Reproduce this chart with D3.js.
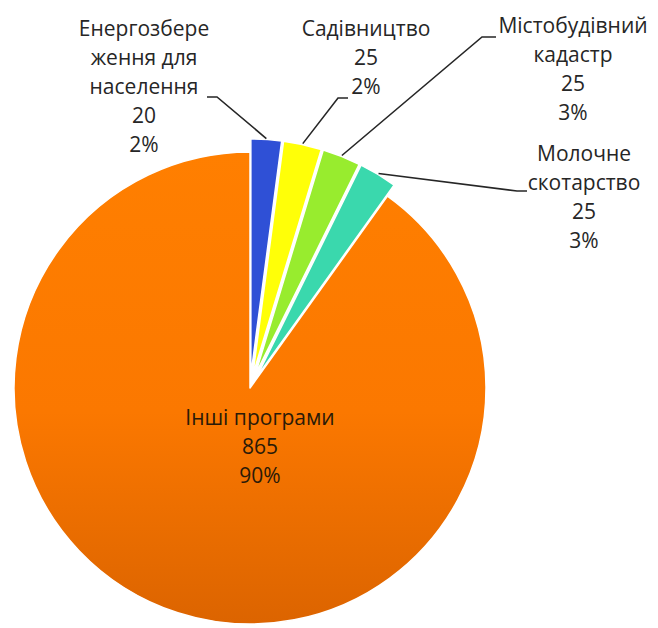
<!DOCTYPE html>
<html>
<head>
<meta charset="utf-8">
<script src="https://cdn.jsdelivr.net/npm/d3@7"></script>
<style>
  body { margin: 0; background: #fff; }
  text { font-family: "Open Sans", "Noto Sans", sans-serif; }
</style>
</head>
<body>
<svg id="chart" width="658" height="628"></svg>
<script>
// data
var programs = ["Енергозбереження для населення", "Садівництво", "Містобудівний кадастр", "Молочне скотарство", "Інші програми"];
var labelLines = [["Енергозбере", "ження для", "населення"], ["Садівництво"], ["Містобудівний", "кадастр"], ["Молочне", "скотарство"], ["Інші програми"]];
var amounts = [20, 25, 25, 25, 865];
var shares = ["2%", "2%", "3%", "3%", "90%"];

// look and layout
var sliceColors = ["#2f50d6", "#ffff08", "#98ec2e", "#3ad8ad", "#ff7c00"];
var cx = 250, cy = 388, radius = 236, explode = 13;
var lineGap = 29;
var labelPos = [[144, 28], [366, 28], [573, 25], [584, 153], [260, 417]];
var leaderStart = [[207, 97], [348, 98], [496, 37], [527, 191]];
var leaderElbow = [[217, 97], [338, 98], [482, 37], [517, 191]];

var svg = d3.select("#chart");

var defs = svg.append("defs");
var grad = defs.append("linearGradient").attr("id", "orangeGrad")
    .attr("x1", 0).attr("y1", 0).attr("x2", 0).attr("y2", 1);
grad.append("stop").attr("offset", "0%").attr("stop-color", "#ff7f00");
grad.append("stop").attr("offset", "55%").attr("stop-color", "#fb7800");
grad.append("stop").attr("offset", "100%").attr("stop-color", "#dc6400");

var pie = d3.pie().sort(null).value(function (d) { return d; });
var arcs = pie(amounts);
var arc = d3.arc().innerRadius(0).outerRadius(radius);

var g = svg.append("g").attr("transform", "translate(" + cx + "," + cy + ")");

function offset(d, i) {
    if (i === amounts.length - 1) return [0, 0];
    var mid = (d.startAngle + d.endAngle) / 2;
    return [explode * Math.sin(mid), -explode * Math.cos(mid)];
}

g.selectAll("path.slice")
    .data(arcs)
    .enter().append("path")
    .attr("class", "slice")
    .attr("d", arc)
    .attr("transform", function (d, i) {
        var o = offset(d, i);
        return "translate(" + o[0] + "," + o[1] + ")";
    })
    .attr("fill", function (d, i) { return i === amounts.length - 1 ? "url(#orangeGrad)" : sliceColors[i]; })
    .attr("stroke", "#fff")
    .attr("stroke-width", 1.5)
    .attr("stroke-linejoin", "round");

// leader lines from the labels to the small slices
var small = arcs.slice(0, 4);
svg.selectAll("polyline.leader")
    .data(small)
    .enter().append("polyline")
    .attr("class", "leader")
    .attr("points", function (d, i) {
        var o = offset(d, i);
        var mid = (d.startAngle + d.endAngle) / 2;
        var ex = cx + o[0] + (radius + 1) * Math.sin(mid);
        var ey = cy + o[1] - (radius + 1) * Math.cos(mid);
        return [leaderStart[i], leaderElbow[i], [ex, ey]].map(function (p) { return p.join(","); }).join(" ");
    })
    .attr("fill", "none")
    .attr("stroke", "#262626")
    .attr("stroke-width", 1.6);

// data labels
programs.forEach(function (name, i) {
    var lines = labelLines[i].concat([String(amounts[i]), shares[i]]);
    var t = svg.append("text")
        .attr("text-anchor", "middle")
        .attr("font-size", 21)
        .attr("fill", i === amounts.length - 1 ? "#2a1a08" : "#262626");
    lines.forEach(function (s, k) {
        t.append("tspan")
            .attr("x", labelPos[i][0])
            .attr("y", labelPos[i][1] + k * lineGap)
            .attr("dominant-baseline", "central")
            .text(s);
    });
});
</script>
</body>
</html>
